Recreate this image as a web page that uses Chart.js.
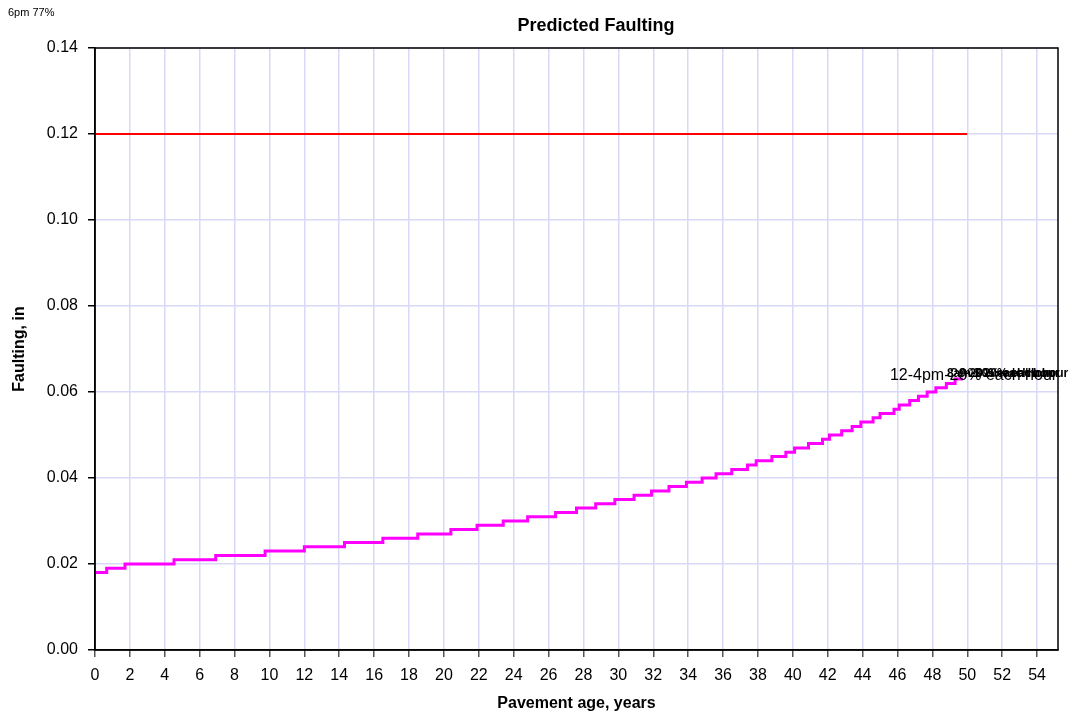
<!DOCTYPE html>
<html>
<head>
<meta charset="utf-8">
<script src="https://cdn.jsdelivr.net/npm/chart.js@4.4.1/dist/chart.umd.min.js"></script>
<style>
    html, body { margin: 0; padding: 0; background: #fff; }
    #wrap { width: 1081px; height: 719px; position: relative; }
</style>
</head>
<body>
<div id="wrap"><canvas id="faultChart"></canvas></div>
<script>
// Pavement age (years) where the predicted faulting steps up, and the value from there on
const ageSteps = [0, 0.67, 1.72, 4.53, 6.92, 9.75, 12.0, 14.3, 16.5, 18.5, 20.4, 21.9, 23.4, 24.8,
    26.4, 27.6, 28.7, 29.8, 30.9, 31.9, 32.9, 33.9, 34.8, 35.6, 36.5, 37.4, 37.9, 38.8, 39.6,
    40.1, 40.9, 41.7, 42.1, 42.8, 43.4, 43.9, 44.6, 45.0, 45.8, 46.1, 46.7, 47.2, 47.7, 48.2,
    48.8, 49.3, 49.75];
const faultValues = [0.018, 0.019, 0.020, 0.021, 0.022, 0.023, 0.024, 0.025, 0.026, 0.027, 0.028,
    0.029, 0.030, 0.031, 0.032, 0.033, 0.034, 0.035, 0.036, 0.037, 0.038, 0.039, 0.040, 0.041,
    0.042, 0.043, 0.044, 0.045, 0.046, 0.047, 0.048, 0.049, 0.050, 0.051, 0.052, 0.053, 0.054,
    0.055, 0.056, 0.057, 0.058, 0.059, 0.060, 0.061, 0.062, 0.063, 0.063];

// Faulting limit
const limitAges = [0, 50];
const limitValues = [0.12, 0.12];

// Axis ranges / ticks
const xMin = 0, xMax = 55.2, xStep = 2;
const yMin = 0, yMax = 0.14, yStep = 0.02;

const endLabel = "12-4pm-20% each hour";
const overlapLabels = ["8am-30% each hour", "1-20% each hour", "9-20% each hour"];
const cornerNote = "6pm 77%";

const FONT = "'Liberation Sans', Arial, sans-serif";

const toPoints = (xs, ys) => xs.map((x, i) => ({ x: x, y: ys[i] }));

// frame, title and stray text labels
const decorPlugin = {
    id: "decor",
    afterDatasetsDraw(chart) {
        const { ctx, chartArea, scales } = chart;
        ctx.save();
        ctx.strokeStyle = "#000";
        ctx.lineWidth = 1.5;
        ctx.strokeRect(chartArea.left, chartArea.top, chartArea.right - chartArea.left, chartArea.bottom - chartArea.top);

        ctx.fillStyle = "#000";
        ctx.textBaseline = "middle";
        ctx.textAlign = "center";
        ctx.font = "bold 18px " + FONT;
        ctx.fillText("Predicted Faulting", 596, 26);

        ctx.textAlign = "left";
        ctx.font = "11px " + FONT;
        ctx.fillText(cornerNote, 8, 13);

        const lastI = ageSteps.length - 1;
        const px = scales.x.getPixelForValue(ageSteps[lastI]);
        const py = scales.y.getPixelForValue(faultValues[lastI]);
        ctx.font = "16px " + FONT;
        ctx.fillText(endLabel, px - 73, py - 4);
        ctx.font = "bold 12px " + FONT;
        ctx.fillText(overlapLabels[0], px - 16, py - 5);
        ctx.fillText(overlapLabels[1], px + 10, py - 5);
        ctx.fillText(overlapLabels[2], px - 4, py - 5);
        ctx.restore();
    }
};

document.addEventListener("DOMContentLoaded", () => {
    const ctx = document.getElementById("faultChart").getContext("2d");

    new Chart(ctx, {
        type: "line",
        data: {
            datasets: [
                {
                    label: "Faulting",
                    data: toPoints(ageSteps, faultValues),
                    borderColor: "#ff00ff",
                    borderWidth: 3,
                    stepped: "before",
                    pointRadius: 0,
                    fill: false
                },
                {
                    label: "Limit",
                    data: toPoints(limitAges, limitValues),
                    borderColor: "#ff0000",
                    borderWidth: 2,
                    pointRadius: 0,
                    fill: false
                }
            ]
        },
        options: {
            responsive: true,
            maintainAspectRatio: false,
            animation: false,
            layout: { padding: { top: 48, right: 23, left: 0, bottom: 0 } },
            plugins: {
                legend: { display: false },
                title: { display: false },
                tooltip: { enabled: false }
            },
            scales: {
                x: {
                    type: "linear",
                    min: xMin,
                    max: xMax,
                    afterBuildTicks: (scale) => {
                        const t = [];
                        for (let v = xMin; v <= xMax; v += xStep) t.push({ value: v });
                        scale.ticks = t;
                    },
                    afterFit: (scale) => { scale.height = 69; },
                    grid: { color: "#d8d8f8", lineWidth: 1.5, tickColor: "#555", tickLength: 7 },
                    border: { color: "#000", width: 1.5 },
                    ticks: { color: "#000", font: { family: FONT, size: 16 }, padding: 9, maxRotation: 0, autoSkip: false },
                    title: {
                        display: true,
                        text: "Pavement age, years",
                        color: "#000",
                        font: { family: FONT, size: 16, weight: "bold" },
                        padding: { top: 0, bottom: 6 }
                    }
                },
                y: {
                    min: yMin,
                    max: yMax,
                    afterBuildTicks: (scale) => {
                        const t = [];
                        for (let i = 0; i <= Math.round((yMax - yMin) / yStep); i++) t.push({ value: yMin + i * yStep });
                        scale.ticks = t;
                    },
                    afterFit: (scale) => { scale.width = 95; },
                    grid: { color: "#d8d8f8", lineWidth: 1.5, tickColor: "#000", tickLength: 7 },
                    border: { color: "#000", width: 1.5 },
                    ticks: {
                        color: "#000",
                        font: { family: FONT, size: 16 },
                        padding: 10,
                        callback: (v) => Number(v).toFixed(2)
                    },
                    title: {
                        display: true,
                        text: "Faulting, in",
                        color: "#000",
                        font: { family: FONT, size: 16, weight: "bold" },
                        padding: { top: 10, bottom: 0 }
                    }
                }
            }
        },
        plugins: [decorPlugin]
    });
});
</script>
</body>
</html>
